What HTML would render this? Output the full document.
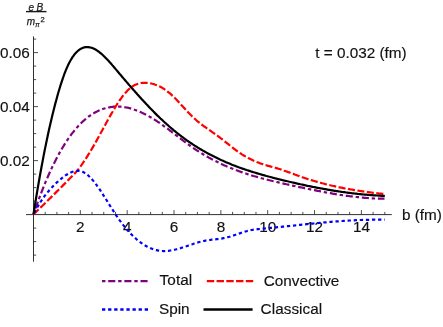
<!DOCTYPE html>
<html><head><meta charset="utf-8"><title>plot</title>
<style>
html,body{margin:0;padding:0;background:#fff;}
svg{display:block;font-family:"Liberation Sans",sans-serif;}
.lbl text{font-size:15.3px;fill:#111;stroke:#111;stroke-width:0.15px;}
.ax line{stroke:#1a1a1a;stroke-width:0.9;}
.tk line{stroke:#222;stroke-width:0.8;}
.c{fill:none;stroke-width:2.2;}
.lg{fill:none;stroke-width:2.4;}
</style></head><body>
<svg width="443" height="327" viewBox="0 0 443 327">
<rect width="443" height="327" fill="#fff"/>
<g class="ax">
<line x1="26" y1="214.6" x2="391.8" y2="214.6"/>
<line x1="33.5" y1="36.4" x2="33.5" y2="261.7"/>
</g>
<g class="tk"><line x1="45.21" y1="214.6" x2="45.21" y2="211.9"/><line x1="56.92" y1="214.6" x2="56.92" y2="211.9"/><line x1="68.63" y1="214.6" x2="68.63" y2="211.9"/><line x1="80.34" y1="214.6" x2="80.34" y2="210.1"/><line x1="92.05" y1="214.6" x2="92.05" y2="211.9"/><line x1="103.76" y1="214.6" x2="103.76" y2="211.9"/><line x1="115.47" y1="214.6" x2="115.47" y2="211.9"/><line x1="127.18" y1="214.6" x2="127.18" y2="210.1"/><line x1="138.89" y1="214.6" x2="138.89" y2="211.9"/><line x1="150.60" y1="214.6" x2="150.60" y2="211.9"/><line x1="162.31" y1="214.6" x2="162.31" y2="211.9"/><line x1="174.02" y1="214.6" x2="174.02" y2="210.1"/><line x1="185.73" y1="214.6" x2="185.73" y2="211.9"/><line x1="197.44" y1="214.6" x2="197.44" y2="211.9"/><line x1="209.15" y1="214.6" x2="209.15" y2="211.9"/><line x1="220.86" y1="214.6" x2="220.86" y2="210.1"/><line x1="232.57" y1="214.6" x2="232.57" y2="211.9"/><line x1="244.28" y1="214.6" x2="244.28" y2="211.9"/><line x1="255.99" y1="214.6" x2="255.99" y2="211.9"/><line x1="267.70" y1="214.6" x2="267.70" y2="210.1"/><line x1="279.41" y1="214.6" x2="279.41" y2="211.9"/><line x1="291.12" y1="214.6" x2="291.12" y2="211.9"/><line x1="302.83" y1="214.6" x2="302.83" y2="211.9"/><line x1="314.54" y1="214.6" x2="314.54" y2="210.1"/><line x1="326.25" y1="214.6" x2="326.25" y2="211.9"/><line x1="337.96" y1="214.6" x2="337.96" y2="211.9"/><line x1="349.67" y1="214.6" x2="349.67" y2="211.9"/><line x1="361.38" y1="214.6" x2="361.38" y2="210.1"/><line x1="373.09" y1="214.6" x2="373.09" y2="211.9"/><line x1="384.80" y1="214.6" x2="384.80" y2="211.9"/><line x1="33.5" y1="255.10" x2="36.2" y2="255.10"/><line x1="33.5" y1="241.60" x2="36.2" y2="241.60"/><line x1="33.5" y1="228.10" x2="36.2" y2="228.10"/><line x1="33.5" y1="201.10" x2="36.2" y2="201.10"/><line x1="33.5" y1="187.60" x2="36.2" y2="187.60"/><line x1="33.5" y1="174.10" x2="36.2" y2="174.10"/><line x1="33.5" y1="160.60" x2="38.0" y2="160.60"/><line x1="33.5" y1="147.10" x2="36.2" y2="147.10"/><line x1="33.5" y1="133.60" x2="36.2" y2="133.60"/><line x1="33.5" y1="120.10" x2="36.2" y2="120.10"/><line x1="33.5" y1="106.60" x2="38.0" y2="106.60"/><line x1="33.5" y1="93.10" x2="36.2" y2="93.10"/><line x1="33.5" y1="79.60" x2="36.2" y2="79.60"/><line x1="33.5" y1="66.10" x2="36.2" y2="66.10"/><line x1="33.5" y1="52.60" x2="38.0" y2="52.60"/><line x1="33.5" y1="39.10" x2="36.2" y2="39.10"/></g>
<g class="lbl"><text x="80.3" y="231.8" text-anchor="middle">2</text><text x="127.2" y="231.8" text-anchor="middle">4</text><text x="174.0" y="231.8" text-anchor="middle">6</text><text x="220.9" y="231.8" text-anchor="middle">8</text><text x="267.7" y="231.8" text-anchor="middle">10</text><text x="314.5" y="231.8" text-anchor="middle">12</text><text x="361.4" y="231.8" text-anchor="middle">14</text><text x="29.9" y="165.5" text-anchor="end">0.02</text><text x="29.9" y="111.5" text-anchor="end">0.04</text><text x="29.9" y="57.5" text-anchor="end">0.06</text>
<text x="401.9" y="219.6">b (fm)</text>
<text x="315.3" y="57.7">t = 0.032 (fm)</text>
<text x="159.6" y="285.4" textLength="32.6">Total</text>
<text x="263.7" y="285.6">Convective</text>
<text x="159" y="313.7">Spin</text>
<text x="260.6" y="314.3" textLength="61.6">Classical</text>
</g>
<g font-style="italic" fill="#222" stroke="#222" stroke-width="0.25">
<text x="28.6" y="11.2" font-size="10" textLength="14.6">e B</text>
<rect x="26" y="10.9" width="20.5" height="1.4" fill="#1a1a1a" stroke="none"/>
<text x="26.7" y="24.8" font-size="10">m</text>
<text x="35.2" y="26.8" font-size="6.5">π</text>
<text x="40.5" y="21.5" font-size="7.5" font-style="normal">2</text>
</g>
<path class="c" stroke="#800080" stroke-dasharray="3.4 2.8 7.1 2.85" d="M33.5,214.3 L34.5,211.4 L35.5,208.5 L36.5,205.6 L37.5,202.9 L38.5,200.1 L39.5,197.4 L40.5,194.8 L41.5,192.2 L42.5,189.6 L43.5,187.1 L44.5,184.6 L45.5,182.2 L46.5,179.8 L47.5,177.5 L48.5,175.2 L49.5,173.0 L50.5,170.8 L51.5,168.6 L52.5,166.5 L53.5,164.4 L54.5,162.4 L55.5,160.4 L56.5,158.5 L57.5,156.6 L58.5,154.7 L59.5,152.9 L60.5,151.1 L61.5,149.4 L62.5,147.7 L63.5,146.1 L64.5,144.4 L65.5,142.9 L66.5,141.3 L67.5,139.8 L68.5,138.4 L69.5,137.0 L70.5,135.6 L71.5,134.2 L72.5,132.9 L73.5,131.7 L74.5,130.4 L75.5,129.2 L76.5,128.1 L77.5,126.9 L78.5,125.8 L79.5,124.8 L80.5,123.8 L81.5,122.8 L82.5,121.8 L83.5,120.9 L84.5,120.0 L85.5,119.1 L86.5,118.3 L87.5,117.5 L88.5,116.7 L89.5,116.0 L90.5,115.3 L91.5,114.6 L92.5,114.0 L93.5,113.4 L94.5,112.8 L95.5,112.2 L96.5,111.7 L97.5,111.2 L98.5,110.7 L99.5,110.3 L100.5,109.9 L101.5,109.5 L102.5,109.1 L103.5,108.8 L104.5,108.5 L105.5,108.2 L106.5,107.9 L107.5,107.7 L108.5,107.5 L109.5,107.3 L110.5,107.1 L111.5,107.0 L112.5,106.8 L113.5,106.7 L114.5,106.7 L115.5,106.6 L116.5,106.6 L117.5,106.6 L118.5,106.6 L119.5,106.7 L120.5,106.7 L121.5,106.8 L122.5,106.9 L123.5,107.0 L124.5,107.2 L125.5,107.3 L126.5,107.5 L127.5,107.7 L128.5,107.9 L129.5,108.2 L130.5,108.4 L131.5,108.7 L132.5,109.0 L133.5,109.3 L134.5,109.7 L135.5,110.0 L136.5,110.4 L137.5,110.8 L138.5,111.2 L139.5,111.6 L140.5,112.0 L141.5,112.5 L142.5,112.9 L143.5,113.4 L144.5,113.9 L145.5,114.4 L146.5,114.9 L147.5,115.5 L148.5,116.0 L149.5,116.6 L150.5,117.2 L151.5,117.8 L152.5,118.4 L153.5,119.0 L154.5,119.6 L155.5,120.3 L156.5,120.9 L157.5,121.6 L158.5,122.2 L159.5,122.9 L160.5,123.6 L161.5,124.3 L162.5,125.0 L163.5,125.8 L164.5,126.5 L165.5,127.2 L166.5,128.0 L167.5,128.7 L168.5,129.4 L169.5,130.2 L170.5,131.0 L171.5,131.7 L172.5,132.5 L173.5,133.2 L174.5,134.0 L175.5,134.8 L176.5,135.5 L177.5,136.3 L178.5,137.1 L179.5,137.8 L180.5,138.6 L181.5,139.4 L182.5,140.1 L183.5,140.9 L184.5,141.6 L185.5,142.4 L186.5,143.1 L187.5,143.9 L188.5,144.6 L189.5,145.3 L190.5,146.0 L191.5,146.7 L192.5,147.4 L193.5,148.1 L194.5,148.8 L195.5,149.5 L196.5,150.1 L197.5,150.8 L198.5,151.4 L199.5,152.1 L200.5,152.7 L201.5,153.3 L202.5,153.9 L203.5,154.5 L204.5,155.1 L205.5,155.7 L206.5,156.3 L207.5,156.8 L208.5,157.4 L209.5,157.9 L210.5,158.5 L211.5,159.0 L212.5,159.6 L213.5,160.1 L214.5,160.6 L215.5,161.1 L216.5,161.6 L217.5,162.1 L218.5,162.6 L219.5,163.1 L220.5,163.5 L221.5,164.0 L222.5,164.5 L223.5,164.9 L224.5,165.4 L225.5,165.8 L226.5,166.3 L227.5,166.7 L228.5,167.1 L229.5,167.5 L230.5,167.9 L231.5,168.3 L232.5,168.7 L233.5,169.1 L234.5,169.5 L235.5,169.9 L236.5,170.3 L237.5,170.6 L238.5,171.0 L239.5,171.4 L240.5,171.7 L241.5,172.1 L242.5,172.4 L243.5,172.8 L244.5,173.1 L245.5,173.4 L246.5,173.8 L247.5,174.1 L248.5,174.4 L249.5,174.7 L250.5,175.0 L251.5,175.4 L252.5,175.7 L253.5,176.0 L254.5,176.2 L255.5,176.5 L256.5,176.8 L257.5,177.1 L258.5,177.4 L259.5,177.7 L260.5,177.9 L261.5,178.2 L262.5,178.5 L263.5,178.8 L264.5,179.0 L265.5,179.3 L266.5,179.5 L267.5,179.8 L268.5,180.0 L269.5,180.3 L270.5,180.5 L271.5,180.8 L272.5,181.0 L273.5,181.3 L274.5,181.5 L275.5,181.7 L276.5,182.0 L277.5,182.2 L278.5,182.4 L279.5,182.7 L280.5,182.9 L281.5,183.1 L282.5,183.4 L283.5,183.6 L284.5,183.8 L285.5,184.0 L286.5,184.3 L287.5,184.5 L288.5,184.7 L289.5,184.9 L290.5,185.1 L291.5,185.4 L292.5,185.6 L293.5,185.8 L294.5,186.0 L295.5,186.2 L296.5,186.4 L297.5,186.7 L298.5,186.9 L299.5,187.1 L300.5,187.3 L301.5,187.5 L302.5,187.7 L303.5,187.9 L304.5,188.2 L305.5,188.4 L306.5,188.6 L307.5,188.8 L308.5,189.0 L309.5,189.2 L310.5,189.4 L311.5,189.6 L312.5,189.8 L313.5,190.0 L314.5,190.2 L315.5,190.4 L316.5,190.6 L317.5,190.8 L318.5,191.0 L319.5,191.2 L320.5,191.4 L321.5,191.6 L322.5,191.8 L323.5,192.0 L324.5,192.2 L325.5,192.3 L326.5,192.5 L327.5,192.7 L328.5,192.9 L329.5,193.1 L330.5,193.2 L331.5,193.4 L332.5,193.6 L333.5,193.8 L334.5,193.9 L335.5,194.1 L336.5,194.3 L337.5,194.4 L338.5,194.6 L339.5,194.7 L340.5,194.9 L341.5,195.0 L342.5,195.2 L343.5,195.3 L344.5,195.5 L345.5,195.6 L346.5,195.8 L347.5,195.9 L348.5,196.0 L349.5,196.2 L350.5,196.3 L351.5,196.4 L352.5,196.5 L353.5,196.7 L354.5,196.8 L355.5,196.9 L356.5,197.0 L357.5,197.1 L358.5,197.2 L359.5,197.3 L360.5,197.4 L361.5,197.5 L362.5,197.6 L363.5,197.7 L364.5,197.8 L365.5,197.9 L366.5,198.0 L367.5,198.0 L368.5,198.1 L369.5,198.2 L370.5,198.2 L371.5,198.3 L372.5,198.4 L373.5,198.4 L374.5,198.5 L375.5,198.5 L376.5,198.5 L377.5,198.6 L378.5,198.6 L379.5,198.6 L380.5,198.7 L381.5,198.7 L382.5,198.7 L383.5,198.7 L384.5,198.7"/>
<path class="c" stroke="#ff0000" stroke-dasharray="7.1 2.45" d="M33.5,214.3 L34.5,213.3 L35.5,212.4 L36.5,211.4 L37.5,210.5 L38.5,209.5 L39.5,208.6 L40.5,207.6 L41.5,206.6 L42.5,205.7 L43.5,204.7 L44.5,203.7 L45.5,202.8 L46.5,201.8 L47.5,200.8 L48.5,199.8 L49.5,198.8 L50.5,197.9 L51.5,196.9 L52.5,195.9 L53.5,194.9 L54.5,193.9 L55.5,192.9 L56.5,191.9 L57.5,190.9 L58.5,190.0 L59.5,189.0 L60.5,188.0 L61.5,186.9 L62.5,185.9 L63.5,184.9 L64.5,183.9 L65.5,182.9 L66.5,181.9 L67.5,180.9 L68.5,179.9 L69.5,178.8 L70.5,177.8 L71.5,176.8 L72.5,175.8 L73.5,174.7 L74.5,173.7 L75.5,172.6 L76.3,171.8 L76.3,171.8 L77.3,170.6 L78.3,169.3 L79.3,168.0 L80.3,166.7 L81.3,165.3 L82.3,163.9 L83.3,162.4 L84.3,161.0 L85.3,159.4 L86.3,157.9 L87.3,156.3 L88.3,154.7 L89.3,153.1 L90.3,151.5 L91.3,149.8 L92.3,148.1 L93.3,146.4 L94.3,144.6 L95.3,142.9 L96.3,141.1 L97.3,139.3 L98.3,137.5 L99.3,135.7 L100.3,133.8 L101.3,132.0 L102.3,130.2 L103.3,128.3 L104.3,126.5 L105.3,124.7 L106.3,122.8 L107.3,121.0 L108.3,119.2 L109.3,117.4 L110.3,115.6 L111.3,113.9 L112.3,112.2 L113.3,110.4 L114.3,108.8 L115.3,107.1 L116.3,105.5 L117.3,103.9 L118.3,102.4 L119.3,100.9 L120.3,99.5 L121.3,98.1 L122.3,96.7 L123.3,95.4 L124.3,94.2 L125.3,93.0 L126.3,91.9 L127.3,90.8 L128.3,89.8 L129.3,88.9 L130.3,88.0 L131.3,87.2 L132.3,86.5 L133.3,85.9 L134.3,85.3 L135.3,84.8 L136.3,84.4 L137.3,84.0 L138.3,83.7 L139.3,83.4 L140.3,83.2 L141.3,83.0 L142.3,82.9 L143.3,82.8 L144.3,82.8 L145.3,82.8 L146.3,82.9 L147.3,82.9 L148.3,83.0 L149.3,83.2 L150.3,83.3 L151.3,83.5 L152.3,83.8 L153.3,84.0 L154.3,84.3 L155.3,84.7 L156.3,85.0 L157.3,85.4 L158.3,85.8 L159.3,86.3 L160.3,86.8 L161.3,87.3 L162.3,87.9 L163.3,88.5 L164.3,89.1 L165.3,89.8 L166.3,90.5 L167.3,91.3 L168.3,92.1 L169.3,92.9 L170.3,93.7 L171.3,94.6 L172.3,95.6 L173.3,96.5 L174.3,97.5 L175.3,98.5 L176.3,99.5 L177.3,100.6 L178.3,101.6 L179.3,102.7 L180.3,103.8 L181.3,104.9 L182.3,106.0 L183.3,107.1 L184.3,108.1 L185.3,109.2 L186.3,110.3 L187.3,111.4 L188.3,112.5 L189.3,113.5 L190.3,114.5 L191.3,115.5 L192.3,116.5 L193.3,117.5 L194.3,118.4 L195.3,119.3 L196.3,120.2 L197.3,121.1 L198.3,121.9 L199.3,122.7 L200.3,123.5 L201.3,124.3 L202.3,125.0 L203.3,125.8 L204.3,126.5 L205.3,127.2 L206.3,127.9 L207.3,128.6 L208.3,129.3 L209.3,130.0 L210.3,130.7 L211.3,131.4 L212.3,132.1 L213.3,132.8 L214.3,133.5 L215.3,134.2 L216.3,134.9 L217.3,135.6 L218.3,136.3 L219.3,137.1 L220.3,137.9 L221.3,138.6 L222.3,139.4 L223.3,140.2 L224.3,141.0 L225.3,141.8 L226.3,142.6 L227.3,143.4 L228.3,144.2 L229.3,145.0 L230.3,145.8 L231.3,146.6 L232.3,147.4 L233.3,148.2 L234.3,149.0 L235.3,149.7 L236.3,150.5 L237.3,151.2 L238.3,151.9 L239.3,152.6 L240.3,153.3 L241.3,153.9 L242.3,154.6 L243.3,155.2 L244.3,155.8 L245.3,156.4 L246.3,157.0 L247.3,157.5 L248.3,158.1 L249.3,158.6 L250.3,159.1 L251.3,159.6 L252.3,160.1 L253.3,160.6 L254.3,161.0 L255.3,161.4 L256.3,161.8 L257.3,162.2 L258.3,162.6 L259.3,163.0 L260.3,163.4 L261.3,163.7 L262.3,164.0 L263.3,164.4 L264.3,164.7 L265.3,165.0 L266.3,165.3 L267.3,165.6 L268.3,165.9 L269.3,166.1 L270.3,166.4 L271.3,166.7 L272.3,167.0 L273.3,167.3 L274.3,167.5 L275.3,167.8 L276.3,168.1 L277.3,168.4 L278.3,168.7 L279.3,169.0 L280.3,169.3 L281.3,169.6 L282.3,170.0 L283.3,170.3 L284.3,170.7 L285.3,171.0 L286.3,171.4 L287.3,171.7 L288.3,172.1 L289.3,172.4 L290.3,172.8 L291.3,173.2 L292.3,173.6 L293.3,173.9 L294.3,174.3 L295.3,174.7 L296.3,175.0 L297.3,175.4 L298.3,175.8 L299.3,176.1 L300.3,176.5 L301.3,176.8 L302.3,177.2 L303.3,177.5 L304.3,177.9 L305.3,178.2 L306.3,178.5 L307.3,178.9 L308.3,179.2 L309.3,179.5 L310.3,179.8 L311.3,180.1 L312.3,180.4 L313.3,180.7 L314.3,181.0 L315.3,181.3 L316.3,181.6 L317.3,181.9 L318.3,182.2 L319.3,182.5 L320.3,182.7 L321.3,183.0 L322.3,183.3 L323.3,183.5 L324.3,183.8 L325.3,184.1 L326.3,184.3 L327.3,184.6 L328.3,184.8 L329.3,185.0 L330.3,185.3 L331.3,185.5 L332.3,185.8 L333.3,186.0 L334.3,186.2 L335.3,186.4 L336.3,186.6 L337.3,186.9 L338.3,187.1 L339.3,187.3 L340.3,187.5 L341.3,187.7 L342.3,187.9 L343.3,188.1 L344.3,188.3 L345.3,188.5 L346.3,188.7 L347.3,188.8 L348.3,189.0 L349.3,189.2 L350.3,189.4 L351.3,189.5 L352.3,189.7 L353.3,189.9 L354.3,190.1 L355.3,190.2 L356.3,190.4 L357.3,190.5 L358.3,190.7 L359.3,190.8 L360.3,191.0 L361.3,191.1 L362.3,191.3 L363.3,191.4 L364.3,191.6 L365.3,191.7 L366.3,191.9 L367.3,192.0 L368.3,192.1 L369.3,192.3 L370.3,192.4 L371.3,192.5 L372.3,192.7 L373.3,192.8 L374.3,192.9 L375.3,193.0 L376.3,193.1 L377.3,193.3 L378.3,193.4 L379.3,193.5 L380.3,193.6 L381.3,193.7 L382.3,193.8 L383.3,193.9 L384.3,194.1 L384.8,194.1"/>
<path class="c" stroke="#0000ff" stroke-dashoffset="4.5" stroke-dasharray="3.3 2.8" d="M33.5,214.3 L34.5,212.4 L35.5,210.5 L36.5,208.7 L37.5,206.9 L38.5,205.2 L39.5,203.6 L40.5,202.0 L41.5,200.5 L42.5,199.0 L43.5,197.6 L44.5,196.2 L45.5,194.9 L46.5,193.6 L47.5,192.4 L48.5,191.2 L49.5,190.0 L50.5,188.9 L51.5,187.8 L52.5,186.8 L53.5,185.7 L54.5,184.8 L55.5,183.8 L56.5,182.8 L57.5,181.9 L58.5,181.0 L59.5,180.1 L60.5,179.3 L61.5,178.5 L62.5,177.7 L63.5,176.9 L64.5,176.1 L65.5,175.4 L66.5,174.8 L67.5,174.2 L68.5,173.6 L69.5,173.1 L70.5,172.6 L71.5,172.2 L72.5,171.8 L73.5,171.5 L74.5,171.2 L75.5,171.0 L76.5,170.9 L77.5,170.9 L78.5,170.9 L79.5,171.0 L80.5,171.2 L81.5,171.5 L82.5,171.8 L83.5,172.3 L84.5,172.8 L85.5,173.4 L86.5,174.1 L87.5,174.9 L88.5,175.8 L89.5,176.7 L90.5,177.7 L91.5,178.8 L92.5,179.9 L93.5,181.1 L94.5,182.3 L95.5,183.6 L96.5,184.9 L97.5,186.3 L98.5,187.7 L99.5,189.2 L100.5,190.7 L101.5,192.2 L102.5,193.7 L103.5,195.3 L104.5,196.8 L105.5,198.4 L106.5,200.0 L107.5,201.6 L108.5,203.2 L109.5,204.9 L110.5,206.5 L111.5,208.1 L112.5,209.6 L113.5,211.2 L114.5,212.7 L115.5,214.3 L116.5,215.8 L117.5,217.2 L118.5,218.7 L119.5,220.1 L120.5,221.4 L121.5,222.8 L122.5,224.1 L123.5,225.4 L124.5,226.6 L125.5,227.8 L126.5,229.0 L127.5,230.2 L128.5,231.3 L129.5,232.4 L130.5,233.5 L131.5,234.5 L132.5,235.5 L133.5,236.5 L134.5,237.4 L135.5,238.3 L136.5,239.2 L137.5,240.1 L138.5,240.9 L139.5,241.7 L140.5,242.4 L141.5,243.1 L142.5,243.8 L143.5,244.5 L144.5,245.1 L145.5,245.7 L146.5,246.3 L147.5,246.8 L148.5,247.3 L149.5,247.8 L150.5,248.2 L151.5,248.6 L152.5,249.0 L153.5,249.4 L154.5,249.7 L155.5,250.0 L156.5,250.2 L157.5,250.4 L158.5,250.6 L159.5,250.8 L160.5,250.9 L161.5,251.0 L162.5,251.0 L163.5,251.1 L164.5,251.1 L165.5,251.0 L166.5,251.0 L167.5,250.9 L168.5,250.8 L169.5,250.7 L170.5,250.5 L171.5,250.4 L172.5,250.2 L173.5,250.0 L174.5,249.8 L175.5,249.5 L176.5,249.3 L177.5,249.0 L178.5,248.7 L179.5,248.5 L180.5,248.2 L181.5,247.8 L182.5,247.5 L183.5,247.2 L184.5,246.9 L185.5,246.5 L186.5,246.2 L187.5,245.9 L188.5,245.5 L189.5,245.2 L190.5,244.8 L191.5,244.5 L192.5,244.2 L193.5,243.8 L194.5,243.5 L195.5,243.2 L196.5,242.9 L197.5,242.6 L198.5,242.3 L199.5,242.0 L200.5,241.7 L201.5,241.5 L202.5,241.2 L203.5,241.0 L204.5,240.8 L205.5,240.6 L206.5,240.4 L207.5,240.3 L208.5,240.1 L209.5,240.0 L210.5,239.9 L211.5,239.7 L212.5,239.6 L213.5,239.5 L214.5,239.4 L215.5,239.3 L216.5,239.2 L217.5,239.1 L218.5,239.0 L219.5,238.9 L220.5,238.7 L221.5,238.6 L222.5,238.4 L223.5,238.2 L224.5,238.0 L225.5,237.8 L226.5,237.6 L227.5,237.3 L228.5,237.0 L229.5,236.8 L230.5,236.4 L231.5,236.1 L232.5,235.8 L233.5,235.5 L234.5,235.1 L235.5,234.8 L236.5,234.4 L237.5,234.1 L238.5,233.7 L239.5,233.4 L240.5,233.1 L241.5,232.7 L242.5,232.4 L243.5,232.1 L244.5,231.8 L245.5,231.5 L246.5,231.2 L247.5,230.9 L248.5,230.7 L249.5,230.5 L250.5,230.2 L251.5,230.0 L252.5,229.9 L253.5,229.7 L254.5,229.6 L255.5,229.4 L256.5,229.3 L257.5,229.2 L258.5,229.1 L259.5,229.0 L260.5,228.9 L261.5,228.8 L262.5,228.7 L263.5,228.6 L264.5,228.5 L265.5,228.4 L266.5,228.3 L267.5,228.2 L268.5,228.1 L269.5,228.0 L270.5,227.9 L271.5,227.8 L272.5,227.7 L273.5,227.6 L274.5,227.5 L275.5,227.4 L276.5,227.3 L277.5,227.2 L278.5,227.1 L279.5,227.0 L280.5,226.9 L281.5,226.8 L282.5,226.7 L283.5,226.6 L284.5,226.5 L285.5,226.4 L286.5,226.3 L287.5,226.2 L288.5,226.1 L289.5,226.0 L290.5,225.9 L291.5,225.8 L292.5,225.7 L293.5,225.6 L294.5,225.5 L295.5,225.3 L296.5,225.2 L297.5,225.1 L298.5,225.0 L299.5,224.9 L300.5,224.8 L301.5,224.7 L302.5,224.6 L303.5,224.5 L304.5,224.4 L305.5,224.3 L306.5,224.2 L307.5,224.1 L308.5,224.0 L309.5,223.9 L310.5,223.8 L311.5,223.7 L312.5,223.6 L313.5,223.5 L314.5,223.4 L315.5,223.3 L316.5,223.2 L317.5,223.1 L318.5,223.0 L319.5,222.9 L320.5,222.8 L321.5,222.7 L322.5,222.6 L323.5,222.5 L324.5,222.4 L325.5,222.3 L326.5,222.3 L327.5,222.2 L328.5,222.1 L329.5,222.0 L330.5,221.9 L331.5,221.8 L332.5,221.7 L333.5,221.7 L334.5,221.6 L335.5,221.5 L336.5,221.4 L337.5,221.3 L338.5,221.3 L339.5,221.2 L340.5,221.1 L341.5,221.0 L342.5,221.0 L343.5,220.9 L344.5,220.8 L345.5,220.8 L346.5,220.7 L347.5,220.6 L348.5,220.6 L349.5,220.5 L350.5,220.5 L351.5,220.4 L352.5,220.4 L353.5,220.3 L354.5,220.3 L355.5,220.2 L356.5,220.2 L357.5,220.1 L358.5,220.1 L359.5,220.0 L360.5,220.0 L361.5,220.0 L362.5,219.9 L363.5,219.9 L364.5,219.9 L365.5,219.8 L366.5,219.8 L367.5,219.8 L368.5,219.8 L369.5,219.7 L370.5,219.7 L371.5,219.7 L372.5,219.7 L373.5,219.7 L374.5,219.7 L375.5,219.7 L376.5,219.7 L377.5,219.7 L378.5,219.7 L379.5,219.7 L380.5,219.7 L381.5,219.7 L382.5,219.7 L383.5,219.7 L384.5,219.7 L384.7,219.7"/>
<path class="c" stroke="#000" d="M33.5,214.1 L34.5,207.8 L35.5,201.6 L36.5,195.5 L37.5,189.6 L38.5,183.7 L39.5,178.0 L40.5,172.5 L41.5,167.0 L42.5,161.7 L43.5,156.4 L44.5,151.3 L45.5,146.4 L46.5,141.5 L47.5,136.8 L48.5,132.1 L49.5,127.6 L50.5,123.2 L51.5,118.9 L52.5,114.7 L53.5,110.7 L54.5,106.7 L55.5,102.9 L56.5,99.2 L57.5,95.5 L58.5,92.0 L59.5,88.7 L60.5,85.4 L61.5,82.3 L62.5,79.3 L63.5,76.5 L64.5,73.7 L65.5,71.2 L66.5,68.7 L67.5,66.4 L68.5,64.3 L69.5,62.3 L70.5,60.5 L71.5,58.8 L72.5,57.2 L73.5,55.8 L74.5,54.4 L75.5,53.2 L76.5,52.2 L77.5,51.2 L78.5,50.4 L79.5,49.6 L80.5,49.0 L81.5,48.4 L82.5,48.0 L83.5,47.6 L84.5,47.3 L85.5,47.2 L86.5,47.1 L87.5,47.1 L88.5,47.1 L89.5,47.3 L90.5,47.5 L91.5,47.8 L92.5,48.1 L93.5,48.5 L94.5,49.0 L95.5,49.5 L96.5,50.1 L97.5,50.8 L98.5,51.5 L99.5,52.3 L100.5,53.1 L101.5,53.9 L102.5,54.8 L103.5,55.7 L104.5,56.7 L105.5,57.7 L106.5,58.7 L107.5,59.8 L108.5,60.8 L109.5,62.0 L110.5,63.1 L111.5,64.2 L112.5,65.4 L113.5,66.5 L114.5,67.7 L115.5,68.9 L116.5,70.1 L117.5,71.3 L118.5,72.5 L119.5,73.7 L120.5,74.8 L121.5,76.0 L122.5,77.2 L123.5,78.4 L124.5,79.5 L125.5,80.7 L126.5,81.9 L127.5,83.0 L128.5,84.2 L129.5,85.4 L130.5,86.5 L131.5,87.7 L132.5,88.8 L133.5,89.9 L134.5,91.1 L135.5,92.2 L136.5,93.3 L137.5,94.5 L138.5,95.6 L139.5,96.7 L140.5,97.8 L141.5,98.9 L142.5,100.0 L143.5,101.1 L144.5,102.1 L145.5,103.2 L146.5,104.3 L147.5,105.3 L148.5,106.4 L149.5,107.4 L150.5,108.5 L151.5,109.5 L152.5,110.5 L153.5,111.6 L154.5,112.6 L155.5,113.6 L156.5,114.6 L157.5,115.6 L158.5,116.5 L159.5,117.5 L160.5,118.5 L161.5,119.4 L162.5,120.3 L163.5,121.3 L164.5,122.2 L165.5,123.1 L166.5,124.0 L167.5,124.9 L168.5,125.8 L169.5,126.7 L170.5,127.5 L171.5,128.4 L172.5,129.2 L173.5,130.1 L174.5,130.9 L175.5,131.7 L176.5,132.5 L177.5,133.3 L178.5,134.1 L179.5,134.9 L180.5,135.6 L181.5,136.4 L182.5,137.1 L183.5,137.9 L184.5,138.6 L185.5,139.3 L186.5,140.1 L187.5,140.8 L188.5,141.5 L189.5,142.1 L190.5,142.8 L191.5,143.5 L192.5,144.2 L193.5,144.8 L194.5,145.5 L195.5,146.1 L196.5,146.7 L197.5,147.4 L198.5,148.0 L199.5,148.6 L200.5,149.2 L201.5,149.8 L202.5,150.4 L203.5,150.9 L204.5,151.5 L205.5,152.1 L206.5,152.6 L207.5,153.2 L208.5,153.7 L209.5,154.3 L210.5,154.8 L211.5,155.3 L212.5,155.8 L213.5,156.3 L214.5,156.8 L215.5,157.3 L216.5,157.8 L217.5,158.3 L218.5,158.8 L219.5,159.3 L220.5,159.7 L221.5,160.2 L222.5,160.6 L223.5,161.1 L224.5,161.5 L225.5,162.0 L226.5,162.4 L227.5,162.8 L228.5,163.2 L229.5,163.6 L230.5,164.1 L231.5,164.5 L232.5,164.9 L233.5,165.3 L234.5,165.6 L235.5,166.0 L236.5,166.4 L237.5,166.8 L238.5,167.2 L239.5,167.5 L240.5,167.9 L241.5,168.2 L242.5,168.6 L243.5,168.9 L244.5,169.3 L245.5,169.6 L246.5,170.0 L247.5,170.3 L248.5,170.6 L249.5,170.9 L250.5,171.3 L251.5,171.6 L252.5,171.9 L253.5,172.2 L254.5,172.5 L255.5,172.8 L256.5,173.1 L257.5,173.4 L258.5,173.7 L259.5,174.0 L260.5,174.3 L261.5,174.6 L262.5,174.9 L263.5,175.1 L264.5,175.4 L265.5,175.7 L266.5,176.0 L267.5,176.2 L268.5,176.5 L269.5,176.8 L270.5,177.0 L271.5,177.3 L272.5,177.6 L273.5,177.8 L274.5,178.1 L275.5,178.3 L276.5,178.6 L277.5,178.8 L278.5,179.1 L279.5,179.3 L280.5,179.6 L281.5,179.8 L282.5,180.1 L283.5,180.3 L284.5,180.6 L285.5,180.8 L286.5,181.0 L287.5,181.3 L288.5,181.5 L289.5,181.8 L290.5,182.0 L291.5,182.2 L292.5,182.5 L293.5,182.7 L294.5,182.9 L295.5,183.1 L296.5,183.4 L297.5,183.6 L298.5,183.8 L299.5,184.0 L300.5,184.3 L301.5,184.5 L302.5,184.7 L303.5,184.9 L304.5,185.1 L305.5,185.3 L306.5,185.6 L307.5,185.8 L308.5,186.0 L309.5,186.2 L310.5,186.4 L311.5,186.6 L312.5,186.8 L313.5,187.0 L314.5,187.2 L315.5,187.4 L316.5,187.6 L317.5,187.8 L318.5,188.0 L319.5,188.1 L320.5,188.3 L321.5,188.5 L322.5,188.7 L323.5,188.9 L324.5,189.1 L325.5,189.2 L326.5,189.4 L327.5,189.6 L328.5,189.8 L329.5,189.9 L330.5,190.1 L331.5,190.3 L332.5,190.4 L333.5,190.6 L334.5,190.8 L335.5,190.9 L336.5,191.1 L337.5,191.2 L338.5,191.4 L339.5,191.5 L340.5,191.7 L341.5,191.8 L342.5,192.0 L343.5,192.1 L344.5,192.2 L345.5,192.4 L346.5,192.5 L347.5,192.6 L348.5,192.8 L349.5,192.9 L350.5,193.0 L351.5,193.2 L352.5,193.3 L353.5,193.4 L354.5,193.5 L355.5,193.6 L356.5,193.7 L357.5,193.9 L358.5,194.0 L359.5,194.1 L360.5,194.2 L361.5,194.3 L362.5,194.4 L363.5,194.5 L364.5,194.6 L365.5,194.6 L366.5,194.7 L367.5,194.8 L368.5,194.9 L369.5,195.0 L370.5,195.1 L371.5,195.1 L372.5,195.2 L373.5,195.3 L374.5,195.4 L375.5,195.4 L376.5,195.5 L377.5,195.5 L378.5,195.6 L379.5,195.7 L380.5,195.7 L381.5,195.8 L382.5,195.8 L383.5,195.8 L384.5,195.9 L384.8,195.9"/>
<path class="lg" stroke="#800080" stroke-dasharray="3.4 2.8 7.1 2.85" d="M102,281.1 H148"/>
<path class="lg" stroke="#ff0000" stroke-dasharray="7.4 2.35" d="M206.8,281.1 H253.3"/>
<path class="lg" stroke="#0000ff" stroke-dasharray="3.3 2.8" d="M102,309.45 H148.5"/>
<path class="lg" stroke="#000" d="M203.5,309.45 H252.6"/>
</svg>
</body></html>
